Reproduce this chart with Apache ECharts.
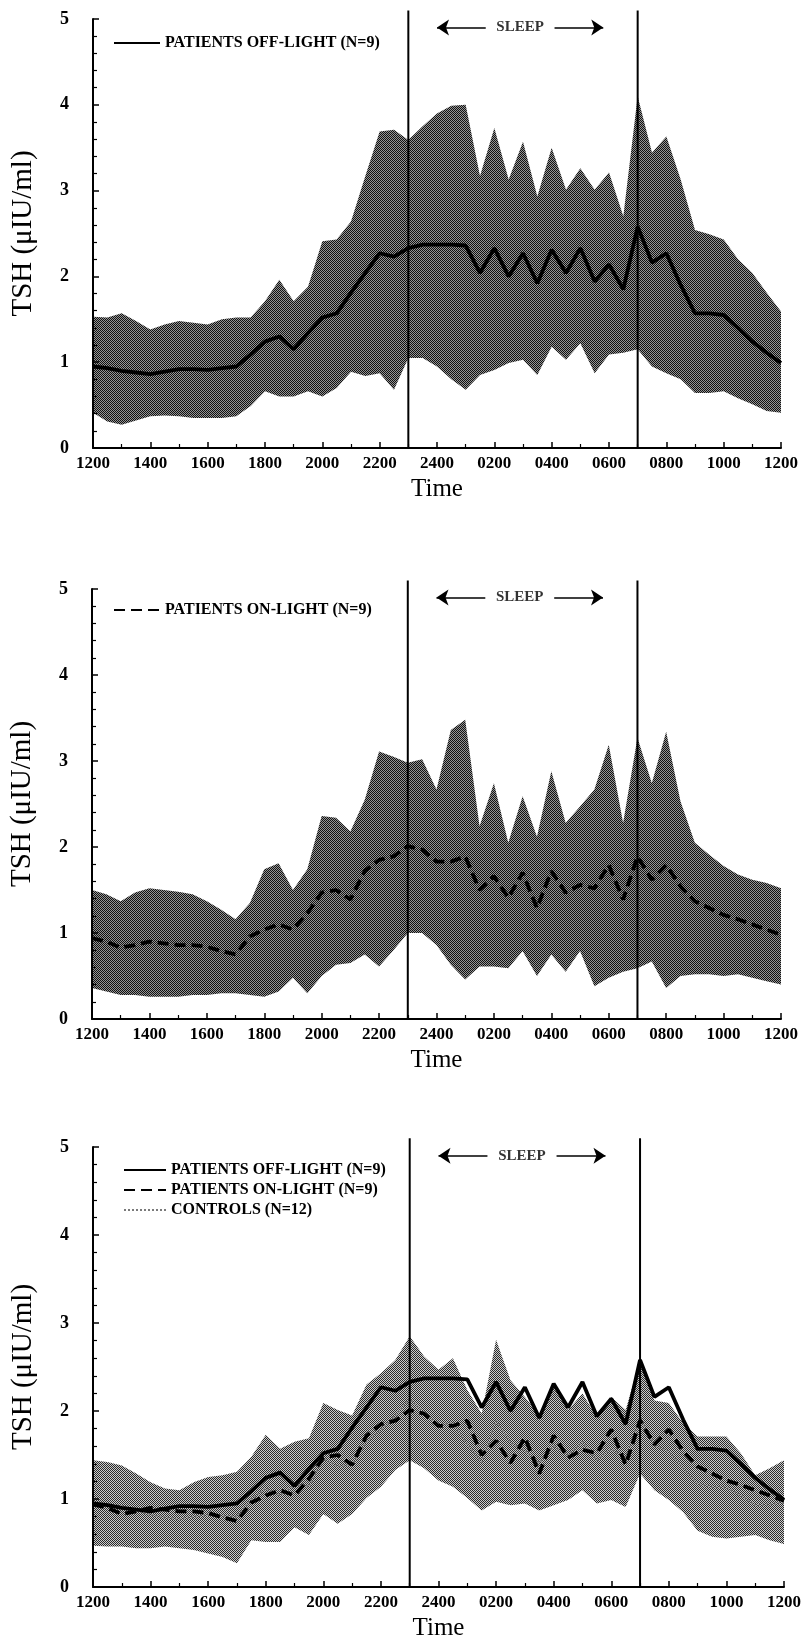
<!DOCTYPE html>
<html>
<head>
<meta charset="utf-8">
<script src="https://cdn.jsdelivr.net/npm/echarts@6/dist/echarts.min.js"></script>
<style>
  html, body { margin: 0; padding: 0; background: #fff; }
  #chart { width: 804px; height: 1642px; }
</style>
</head>
<body>
<div id="chart"></div>
<script>
// ---------- DATA ----------
// hours after 12:00 noon (sampling every 30 min)
const hours = [0,0.5,1,1.5,2,2.5,3,3.5,4,4.5,5,5.5,6,6.5,7,7.5,8,8.5,9,9.5,10,10.5,11,11.5,12,12.5,13,13.5,14,14.5,15,15.5,16,16.5,17,17.5,18,18.5,19,19.5,20,20.5,21,21.5,22,22.5,23,23.5,24];
const xTickLabels = ['1200','1400','1600','1800','2000','2200','2400','0200','0400','0600','0800','1000','1200'];
const yTickLabels = ['0','1','2','3','4','5'];
const sleepLines = [11, 19];          // 2300 and 0700
const sleepArrowLeft = [13.7, 12.0];  // tail, head
const sleepArrowRight = [16.1, 17.8]; // tail, head
const sleepLabelPos = [14.9, 4.9];

const offMean = [0.95,0.93,0.90,0.88,0.86,0.89,0.92,0.92,0.91,0.93,0.95,1.09,1.24,1.30,1.15,1.34,1.52,1.57,1.81,2.04,2.27,2.23,2.33,
  2.37,2.37,2.37,2.36,2.04,2.33,2.00,2.27,1.92,2.31,2.04,2.33,1.94,2.14,1.85,2.58,2.16,2.27,1.90,1.57,1.57,1.55,1.40,1.24,1.11,0.99];
const offUpper = [1.53,1.52,1.57,1.48,1.38,1.44,1.48,1.46,1.44,1.50,1.52,1.52,1.71,1.96,1.71,1.88,2.41,2.43,2.64,3.17,3.69,3.71,3.59,
  3.75,3.90,3.99,4.00,3.17,3.73,3.13,3.57,2.93,3.50,3.01,3.26,3.01,3.21,2.70,4.10,3.44,3.63,3.13,2.54,2.49,2.43,2.20,2.04,1.81,1.59];
const offLower = [0.41,0.31,0.27,0.32,0.37,0.38,0.37,0.35,0.35,0.35,0.37,0.49,0.66,0.60,0.60,0.66,0.60,0.70,0.89,0.84,0.87,0.68,1.05,
  1.05,0.95,0.80,0.68,0.85,0.91,0.99,1.03,0.85,1.18,1.03,1.22,0.87,1.09,1.11,1.15,0.95,0.87,0.80,0.64,0.64,0.66,0.58,0.51,0.43,0.41];

const onMean = [0.94,0.90,0.83,0.86,0.90,0.88,0.86,0.86,0.84,0.79,0.75,0.96,1.04,1.10,1.04,1.23,1.47,1.50,1.39,1.72,1.85,1.89,2.01,
  1.97,1.83,1.83,1.89,1.50,1.66,1.41,1.70,1.29,1.72,1.47,1.56,1.52,1.79,1.39,1.89,1.62,1.79,1.54,1.37,1.29,1.21,1.16,1.10,1.04,0.98];
const onUpper = [1.50,1.45,1.37,1.47,1.52,1.50,1.48,1.45,1.37,1.27,1.16,1.35,1.74,1.81,1.50,1.74,2.36,2.34,2.18,2.55,3.11,3.05,2.98,
  3.02,2.67,3.36,3.48,2.24,2.74,2.05,2.59,2.12,2.88,2.28,2.47,2.67,3.19,2.28,3.27,2.74,3.34,2.53,2.05,1.91,1.78,1.68,1.62,1.58,1.52];
const onLower = [0.36,0.32,0.28,0.28,0.26,0.26,0.26,0.28,0.28,0.30,0.30,0.28,0.26,0.32,0.48,0.30,0.50,0.63,0.65,0.75,0.61,0.80,1.00,
  1.00,0.86,0.63,0.46,0.61,0.61,0.59,0.79,0.50,0.75,0.55,0.79,0.38,0.48,0.55,0.59,0.67,0.36,0.50,0.52,0.52,0.50,0.52,0.48,0.44,0.40];

const ctrlMean = [0.95,0.94,0.92,0.87,0.82,0.79,0.77,0.80,0.82,0.81,0.80,1.00,1.12,1.04,1.16,1.14,1.46,1.37,1.39,1.65,1.78,1.95,2.14,
  1.98,1.84,1.87,1.62,1.42,1.89,1.64,1.55,1.41,1.60,1.50,1.65,1.44,1.57,1.46,1.93,1.61,1.54,1.35,1.17,1.14,1.13,1.04,0.93,0.94,0.96];
const ctrlUpper = [1.44,1.42,1.38,1.29,1.19,1.12,1.10,1.19,1.25,1.27,1.31,1.48,1.73,1.57,1.65,1.69,2.09,2.01,1.95,2.30,2.43,2.58,2.85,
  2.62,2.47,2.60,2.24,1.97,2.81,2.35,2.16,1.95,2.28,2.01,2.20,1.93,2.16,2.01,2.58,2.12,2.09,1.86,1.71,1.71,1.71,1.52,1.27,1.35,1.44];
const ctrlLower = [0.47,0.46,0.46,0.44,0.44,0.46,0.44,0.42,0.38,0.34,0.27,0.53,0.51,0.51,0.68,0.59,0.83,0.72,0.83,1.01,1.14,1.33,1.44,
  1.35,1.21,1.14,1.01,0.87,0.97,0.93,0.95,0.87,0.93,0.99,1.10,0.95,0.99,0.91,1.29,1.10,0.99,0.85,0.64,0.57,0.55,0.57,0.59,0.53,0.49];

const NAME_OFF = 'PATIENTS OFF-LIGHT (N=9)';
const NAME_ON = 'PATIENTS ON-LIGHT (N=9)';
const NAME_CTRL = 'CONTROLS (N=12)';

// ---------- STYLE HELPERS ----------
function makePattern(dark, light) {
  const c = document.createElement('canvas');
  c.width = 4; c.height = 4;
  const ctx = c.getContext('2d');
  ctx.fillStyle = light; ctx.fillRect(0, 0, 4, 4);
  ctx.fillStyle = dark;
  for (let y = 0; y < 4; y++) for (let x = 0; x < 4; x++) {
    if ((x + y) % 2 === 0) ctx.fillRect(x, y, 1, 1);
  }
  return { image: c, repeat: 'repeat' };
}
const darkPattern = makePattern('#111111', '#959595');
const lightPattern = makePattern('#2a2a2a', '#cccccc');

const SERIF = '"Liberation Serif", "DejaVu Serif", serif';
const grids = [
  { left: 93, top: 19, width: 688, height: 429 },
  { left: 91, top: 589, width: 690, height: 430 },
  { left: 93, top: 1147, width: 693, height: 440 }
];

function xAxisFor(i) {
  return {
    type: 'value', gridIndex: i, min: 0, max: 24, interval: 2, z: 8,
    axisLine: { show: true, lineStyle: { color: '#000', width: 2 } },
    axisTick: { show: true, inside: true, length: 6, lineStyle: { color: '#000', width: 1.5 } },
    minorTick: { show: true, splitNumber: 2, length: 4, lineStyle: { color: '#000', width: 1.2 } },
    splitLine: { show: false },
    axisLabel: {
      margin: 7, color: '#000', fontFamily: SERIF, fontWeight: 'bold', fontSize: 17,
      formatter: v => xTickLabels[Math.round(v / 2)] || ''
    },
    name: 'Time', nameLocation: 'middle', nameGap: 29,
    nameTextStyle: { color: '#000', fontFamily: SERIF, fontSize: 25 }
  };
}
function yAxisFor(i) {
  return {
    type: 'value', gridIndex: i, min: 0, max: 5, interval: 1, z: 8,
    axisLine: { show: true, lineStyle: { color: '#000', width: 2 } },
    axisTick: { show: true, inside: true, length: 6, lineStyle: { color: '#000', width: 1.5 } },
    minorTick: { show: true, splitNumber: 5, length: 4, lineStyle: { color: '#000', width: 1.2 } },
    splitLine: { show: false },
    axisLabel: {
      margin: 24, color: '#000', fontFamily: SERIF, fontWeight: 'bold', fontSize: 18,
      formatter: v => yTickLabels[Math.round(v)] || ''
    },
    name: 'TSH (\u03bcIU/ml)', nameLocation: 'middle', nameGap: 55,
    nameTextStyle: { color: '#000', fontFamily: SERIF, fontSize: 29 }
  };
}

function pairs(arr) { return hours.map((h, i) => [h, arr[i]]); }

// shaded band between lower and upper, drawn as one polygon through the axes' scales
function bandSeries(i, lower, upper, pattern) {
  return {
    type: 'custom', name: 'band-' + i, xAxisIndex: i, yAxisIndex: i, silent: true, z: 1,
    data: hours.map((h, k) => [h, lower[k], upper[k]]),
    encode: { x: 0, y: [1, 2] },
    renderItem: function (params, api) {
      if (params.dataIndex !== 0) return null;
      const pts = [];
      for (let k = 0; k < hours.length; k++) pts.push(api.coord([hours[k], upper[k]]));
      for (let k = hours.length - 1; k >= 0; k--) pts.push(api.coord([hours[k], lower[k]]));
      return { type: 'polygon', shape: { points: pts }, style: { fill: pattern, stroke: null } };
    }
  };
}
function meanSeries(i, name, arr, style) {
  return { type: 'line', name: name, xAxisIndex: i, yAxisIndex: i, data: pairs(arr),
    symbol: 'none', lineStyle: style, itemStyle: { color: style.color }, z: 5, silent: true };
}
const offStyle = { color: '#000', width: 3.8, type: 'solid' };
const onStyle = { color: '#000', width: 3.8, type: [11, 6] };
const ctrlStyle = { color: '#7a7a7a', width: 2, type: [2, 2] };

function sleepSeries(i) {
  const out = sleepLines.map((x, k) => ({
    type: 'line', name: 'sleep-line-' + i + '-' + k, xAxisIndex: i, yAxisIndex: i,
    data: [[x, 0], [x, 5.1]], symbol: 'none', clip: false, silent: true, z: 6,
    lineStyle: { color: '#000', width: 2 }
  }));
  out.push({
    type: 'scatter', name: 'sleep-label-' + i, xAxisIndex: i, yAxisIndex: i,
    data: [sleepLabelPos], symbolSize: 1, itemStyle: { color: 'rgba(0,0,0,0)' }, silent: true, z: 6,
    label: { show: true, position: 'inside', formatter: 'SLEEP', color: '#000',
      fontFamily: SERIF, fontWeight: 'bold', fontSize: 15 },
    markLine: {
      silent: true, symbol: ['none', 'arrow'], symbolSize: 12,
      label: { show: false }, lineStyle: { color: '#000', width: 1.6, type: 'solid' },
      data: [
        [{ coord: [sleepArrowLeft[0], sleepLabelPos[1]] }, { coord: [sleepArrowLeft[1], sleepLabelPos[1]] }],
        [{ coord: [sleepArrowRight[0], sleepLabelPos[1]] }, { coord: [sleepArrowRight[1], sleepLabelPos[1]] }]
      ]
    }
  });
  return out;
}

const legendText = { color: '#000', fontFamily: SERIF, fontWeight: 'bold', fontSize: 16 };
const legendItemStyle = { opacity: 0 };
const option = {
  animation: false,
  backgroundColor: '#fff',
  grid: grids,
  xAxis: [xAxisFor(0), xAxisFor(1), xAxisFor(2)],
  yAxis: [yAxisFor(0), yAxisFor(1), yAxisFor(2)],
  legend: [
    { data: [NAME_OFF], left: 113, top: 35, padding: 0, itemWidth: 46, itemHeight: 12, itemGap: 0,
      itemStyle: legendItemStyle, textStyle: legendText, selectedMode: false },
    { data: [NAME_ON], left: 113, top: 602, padding: 0, itemWidth: 46, itemHeight: 12, itemGap: 0,
      itemStyle: legendItemStyle, textStyle: legendText, selectedMode: false },
    { data: [NAME_OFF, NAME_ON, NAME_CTRL], left: 123, top: 1162, padding: 0, orient: 'vertical', itemGap: 4,
      itemWidth: 42, itemHeight: 12, itemStyle: legendItemStyle, textStyle: legendText, selectedMode: false }
  ],
  series: [].concat(
    [bandSeries(0, offLower, offUpper, darkPattern)],
    [meanSeries(0, NAME_OFF, offMean, offStyle)],
    sleepSeries(0),
    [bandSeries(1, onLower, onUpper, darkPattern)],
    [meanSeries(1, NAME_ON, onMean, onStyle)],
    sleepSeries(1),
    [bandSeries(2, ctrlLower, ctrlUpper, lightPattern)],
    [meanSeries(2, NAME_CTRL, ctrlMean, ctrlStyle),
     meanSeries(2, NAME_OFF, offMean, offStyle),
     meanSeries(2, NAME_ON, onMean, onStyle)],
    sleepSeries(2)
  )
};
const chart = echarts.init(document.getElementById('chart'), null, { renderer: 'canvas' });
chart.setOption(option);
</script>
</body>
</html>
